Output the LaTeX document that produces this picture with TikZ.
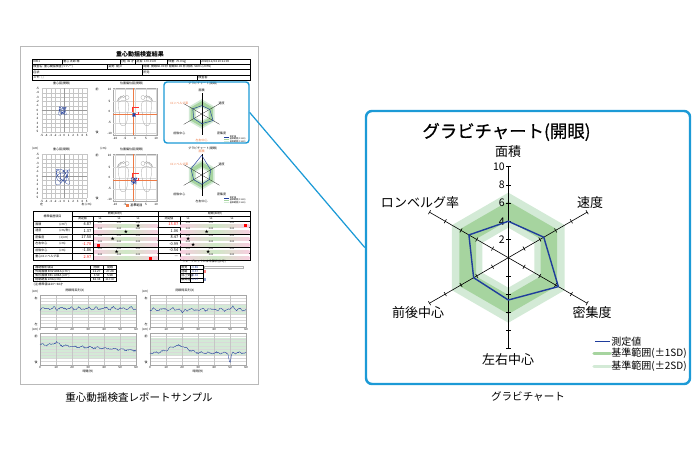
\documentclass[tikz,border=0pt]{standalone}
\usepackage{fontspec}
\setmainfont{Noto Sans CJK JP}
\newfontfamily\titlefont[FakeBold=0.6]{Noto Sans CJK JP}
\usepackage{tikz}

\definecolor{frameblue}{HTML}{1C9AD6}
\definecolor{lineblue}{HTML}{1F3D9C}
\definecolor{sdone}{HTML}{A6D49F}
\definecolor{sdtwo}{HTML}{D3EAD6}
\definecolor{markorange}{HTML}{EE7A45}
\definecolor{barpink}{HTML}{F7CFE0}
\definecolor{baryellow}{HTML}{F4F1B0}
\definecolor{bargreen}{HTML}{CFE8C6}

\newcommand{\sz}[1]{\fontsize{#1}{#1}\selectfont}

\begin{document}
\begin{tikzpicture}[scale=0.2]
	\tikzstyle{every node}+=[inner sep=0pt]
	\tikzstyle{tiny}=[font=\sz{1.7}]
	\tikzstyle{hair}=[line width=0.15pt]
	\tikzstyle{axislabel}=[font=\sz{7.4}]
	\tikzstyle{legendtext}=[font=\sz{5.7}, right]
	\useasboundingbox (0,0) rectangle (70,-45);
	\pgfmathsetseed{7}

	% report sample page
	\draw [gray!55, line width=0.4pt, fill=white] (2.05,-4.6) rectangle (25.8,-38.4);
	\draw (14.0,-5.45) node [font=\sz{3.4}\bfseries] {重心動揺検査結果};
	\draw [hair] (3.17,-5.9) rectangle (25.0,-8.0);
	\draw [hair] (3.17,-6.43) -- (25.0,-6.43) (3.17,-6.96) -- (25.0,-6.96) (3.17,-7.49) -- (25.0,-7.49);
	\draw [hair] (6.17,-5.9) -- (6.17,-6.43) (12.0,-5.9) -- (12.0,-6.43) (13.5,-5.9) -- (13.5,-6.43) (16.67,-5.9) -- (16.67,-6.43) (20.0,-5.9) -- (20.0,-6.43);
	\draw [hair] (10.67,-6.43) -- (10.67,-6.96) (14.17,-6.43) -- (14.17,-7.49) (19.67,-7.49) -- (19.67,-8.0);
	\draw (3.3,-6.17) node [tiny, right] {0001};
	\draw (6.3,-6.17) node [tiny, right] {重心 太郎 様};
	\draw (12.1,-6.17) node [tiny, right] {(男) 45 才};
	\draw (13.6,-6.17) node [tiny, right] {身長: 170.0 cm};
	\draw (16.8,-6.17) node [tiny, right] {体重: 70.0 kg};
	\draw (20.1,-6.17) node [tiny, right] {2018/11/04 10:11:00};
	\draw (3.3,-6.7) node [tiny, right] {検査名: 重心動揺検査(ラバー)};
	\draw (10.8,-6.7) node [tiny, right] {姿勢: 閉/0};
	\draw (14.3,-6.7) node [tiny, right] {時間: 開眼60.00 秒 閉眼60.00 秒 間隔: 50ms (20Hz)};
	\draw (3.3,-7.22) node [tiny, right] {症状:};
	\draw (14.3,-7.22) node [tiny, right] {所見:};
	\draw (3.3,-7.75) node [tiny, right] {メモ: □};
	\draw (19.8,-7.75) node [tiny, right] {検査者:};

	% sway and position plots
	\foreach \o/\eye/\amp in {0/開眼/1.3, 6.6/閉眼/2.4} {
		\draw (6.17,-8.37-\o) node [tiny] {重心図(\eye)};
		\foreach \i in {0,...,10} {
			\draw [gray!45, line width=0.1pt] (4.17+0.45*\i,-8.83-\o) -- (4.17+0.45*\i,-13.17-\o);
			\draw [gray!45, line width=0.1pt] (4.17,-8.83-0.434*\i-\o) -- (8.67,-8.83-0.434*\i-\o);
		}
		\draw [gray!80, line width=0.2pt] (6.42,-8.83-\o) -- (6.42,-13.17-\o) (4.17,-11.0-\o) -- (8.67,-11.0-\o);
		\draw [lineblue, line width=0.1pt] plot [domain=0:12, samples=90] ({6.25+\amp*(0.2*sin(\x*97)+0.1*sin(\x*263))}, {-11.1-\o+\amp*(0.24*cos(\x*131)+0.1*sin(\x*307))});
		\foreach \n in {-5,...,5} {
			\draw (6.42+0.45*\n,-13.55-\o) node [tiny] {\n};
			\draw (3.75,-11.0-\o-0.434*\n) node [tiny] {\n};
		}
		\draw (13.17,-8.37-\o) node [tiny] {位置偏位図(\eye)};
		\draw [gray!70, hair] (11.33,-8.83-\o) rectangle (15.67,-13.5-\o);
		\foreach \g/\n in {11.5/-10, 12.5/-5, 13.5/0, 14.6/5, 15.6/10} {
			\draw [gray!30, line width=0.1pt] (\g,-8.83-\o) -- (\g,-13.5-\o);
			\draw (\g,-13.85-\o) node [tiny] {\n};
		}
		\foreach \g/\n in {8.93/10, 10.1/5, 11.17/0, 12.27/-5, 13.33/-10} {
			\draw [gray!30, line width=0.1pt] (11.33,-\g-\o) -- (15.67,-\g-\o);
			\draw (10.95,-\g-\o) node [tiny] {\n};
		}
		\draw (9.7,-8.95-\o) node [tiny] {前};
		\draw (9.7,-13.2-\o) node [tiny] {後};
		\foreach \fx/\fd in {12.33/1, 14.67/-1} {
			\begin{scope}[shift={(\fx,-11.07-\o)}, xscale=\fd]
				\draw [gray!75, hair] plot [smooth cycle] coordinates {(0.05,1.05) (0.45,0.85) (0.55,0.3) (0.4,-0.4) (0.38,-1.0) (0.15,-1.45) (-0.2,-1.45) (-0.4,-1.0) (-0.35,-0.35) (-0.5,0.35) (-0.45,0.85)};
				\draw [gray!75, hair] (0.38,1.32) circle (0.2) (0.02,1.42) circle (0.13) (-0.22,1.36) circle (0.11) (-0.4,1.22) circle (0.09) (-0.52,1.04) circle (0.08);
			\end{scope}
		}
		\draw [markorange, line width=0.25pt] (13.33,-8.83-\o) -- (13.33,-13.5-\o) (11.33,-11.4-\o) -- (15.67,-11.4-\o);
		\draw [red!80, dashed, line width=0.1pt] (13.17,-10.67-\o) rectangle (13.83,-11.4-\o);
		\draw [lineblue, line width=0.1pt] plot [domain=0:12, samples=80] ({13.4+0.5*\amp*(0.15*sin(\x*97)+0.1*sin(\x*263))}, {-11.5-\o+0.5*\amp*(0.2*cos(\x*131)+0.1*sin(\x*307))});
	}
	\draw (3.17,-14.9) node [tiny, right] {(cm)};
	\draw (10.0,-14.9) node [tiny, right] {(cm)};
	\draw (4.17,-20.43) node [tiny] {左};
	\draw (8.67,-20.43) node [tiny] {右 (cm)};
	\fill [markorange] (12.6,-20.45) rectangle (12.85,-20.7);
	\draw (13.0,-20.57) node [tiny, right] {基準範囲};

	% small gravity charts
	\foreach \o/\ot/\eye/\ca/\cd/\ra/\rb/\rc/\rd/\re/\rf in {0/0/開眼/black/markorange/4.0/4.5/6.35/4.65/4.4/5.0, 6.1/6.53/閉眼/markorange/black/9.5/5.0/4.3/4.5/4.5/6.0} {
		\draw (20.27,-8.37-\ot) node [tiny] {グラビチャート(\eye)};
		\begin{scope}[shift={(20.17,-11.4-\o)}, scale=0.207]
			\fill [sdtwo, even odd rule] (90:7.15) \foreach \a in {30,-30,-90,-150,150} {-- (\a:7.15)} -- cycle (90:3.3) \foreach \a in {30,-30,-90,-150,150} {-- (\a:3.3)} -- cycle;
			\fill [sdone, even odd rule] (90:6.2) \foreach \a in {30,-30,-90,-150,150} {-- (\a:6.2)} -- cycle (90:4.1) \foreach \a in {30,-30,-90,-150,150} {-- (\a:4.1)} -- cycle;
			\foreach \a in {90,30,-30,-90,-150,150} \draw [line width=0.12pt] (0,0) -- (\a:10);
			\draw [lineblue, line width=0.25pt] (90:\ra) -- (30:\rb) -- (-30:\rc) -- (-90:\rd) -- (-150:\re) -- (150:\rf) -- cycle;
			\draw (0,11.6) node [tiny, text=\ca] {面積};
			\draw (9.66,5.17) node [tiny] {速度};
			\draw (9.66,-9.3) node [tiny] {密集度};
			\draw (0,-12.6) node [tiny, text=\cd] {左右中心};
			\draw (-10.8,-9.3) node [tiny] {前後中心};
			\draw (-10.8,5.17) node [tiny, text=markorange] {ロンベルグ率};
			\draw [lineblue, line width=0.2pt] (10.8,-11.0) -- (13.2,-11.0);
			\draw [sdone, line width=0.5pt] (10.8,-12.2) -- (13.2,-12.2);
			\draw [sdtwo, line width=0.5pt] (10.8,-13.4) -- (13.2,-13.4);
			\draw (13.4,-11.0) node [font=\sz{1.2}, right] {測定値};
			\draw (13.4,-12.2) node [font=\sz{1.2}, right] {基準範囲(±1SD)};
			\draw (13.4,-13.4) node [font=\sz{1.2}, right] {基準範囲(±2SD)};
		\end{scope}
	}

	% index table
	\draw [line width=0.3pt] (3.33,-21.17) rectangle (25.0,-26.0);
	\draw [hair] (7.17,-21.6) -- (25.0,-21.6) (3.33,-22.1) -- (25.0,-22.1);
	\foreach \k in {1,...,5} \draw [hair] (3.33,-22.1-0.65*\k) -- (25.0,-22.1-0.65*\k);
	\draw [hair] (7.17,-21.17) -- (7.17,-26.0) (9.33,-21.6) -- (9.33,-26.0) (18.0,-21.6) -- (18.0,-26.0);
	\draw [line width=0.4pt] (15.83,-21.17) -- (15.83,-26.0);
	\draw (5.25,-21.63) node [tiny] {標準偏差項目};
	\draw (11.5,-21.38) node [tiny] {開眼(60秒)};
	\draw (21.5,-21.38) node [tiny] {閉眼(60秒)};
	\draw (8.25,-21.85) node [tiny] {測定値};
	\draw (16.9,-21.85) node [tiny] {測定値};
	\foreach \hx in {10.0,11.9,13.8,18.8,21.1,23.2} \draw (\hx,-21.85) node [font=\sz{1.3}] {SD};
	\foreach \k/\nm/\un/\va/\vb in {0/面積/(cm²)/4.87/{\color{red}13.87}, 1/速度/{(cm/秒)}/1.37/1.06, 2/密集度/{(1/cm)}/17.50/8.47, 3/左右中心/(cm)/{\color{red}-1.70}/-0.99, 4/前後中心/(cm)/-1.86/-0.54, 5/重心ロンベルグ率//{\color{red}2.97}/---} {
		\draw (3.5,-22.42-0.65*\k) node [tiny, right] {\nm};
		\draw (5.9,-22.42-0.65*\k) node [tiny, right] {\un};
		\draw (9.15,-22.42-0.65*\k) node [font=\sz{2.2}, left] {\va};
		\draw (17.85,-22.42-0.65*\k) node [font=\sz{2.2}, left] {\vb};
		\shade [left color=barpink, middle color=baryellow, right color=bargreen] (9.4,-22.42-0.65*\k) rectangle (12.58,-22.72-0.65*\k);
		\shade [left color=bargreen, middle color=baryellow, right color=barpink] (12.58,-22.42-0.65*\k) rectangle (15.76,-22.72-0.65*\k);
		\shade [left color=barpink, middle color=baryellow, right color=bargreen] (18.07,-22.42-0.65*\k) rectangle (21.5,-22.72-0.65*\k);
		\shade [left color=bargreen, middle color=baryellow, right color=barpink] (21.5,-22.42-0.65*\k) rectangle (24.93,-22.72-0.65*\k);
		\foreach \hx in {10.0,11.9,13.8,18.8,21.1,23.2} \draw (\hx,-22.26-0.65*\k) node [font=\sz{1.3}] {0.00};
	}
	\foreach \sx/\sy in {13.83/0, 12.6/1, 11.27/2, 11.67/4, 20.67/1, 18.83/2, 19.33/3, 20.83/4} \draw (\sx,-22.57-0.65*\sy) node [font=\sz{2.4}] {★};
	\foreach \sx/\sy in {9.83/3, 15.0/5, 24.5/0} \fill [red] (\sx-0.15,-22.42-0.65*\sy) rectangle (\sx+0.15,-22.72-0.65*\sy);

	% sub tables
	\draw [line width=0.3pt] (3.33,-26.5) rectangle (11.67,-28.17);
	\draw [hair] (3.33,-26.9) -- (11.67,-26.9) (3.33,-27.33) -- (11.67,-27.33) (3.33,-27.75) -- (11.67,-27.75) (9.0,-26.5) -- (9.0,-28.17) (10.33,-26.5) -- (10.33,-28.17);
	\draw (3.5,-26.7) node [tiny, right] {補助解析項目};
	\draw (9.67,-26.7) node [tiny] {開眼};
	\draw (11.0,-26.7) node [tiny] {閉眼};
	\foreach \k/\nm/\va/\vb in {0/外周面積 ENV AREA (cm²)/11.27/27.28, 1/矩形面積 REC AREA (cm²)/3.50/5.58, 2/総軌跡長 LNG (cm)/82.34/117.47} {
		\draw (3.5,-27.12-0.42*\k) node [tiny, right] {\nm};
		\draw (9.67,-27.12-0.42*\k) node [tiny] {\va};
		\draw (11.0,-27.12-0.42*\k) node [tiny] {\vb};
	}
	\draw (3.33,-28.5) node [tiny, right] {(注)標準値は20〜60才};
	\draw (18.2,-26.2) node [tiny, right] {ウェーブレットによる解析(参考)};
	\draw [line width=0.3pt] (18.0,-26.5) rectangle (20.3,-28.2);
	\draw [hair] (18.0,-26.92) -- (20.3,-26.92) (18.0,-27.35) -- (20.3,-27.35) (18.0,-27.77) -- (20.3,-27.77) (19.0,-26.5) -- (19.0,-28.2);
	\draw [gray!60, hair] (20.4,-26.58) rectangle (24.3,-26.85);
	\foreach \k/\nm/\va in {0/視覚/-0.86, 1/迷路/-0.37, 2/自己受容/-0.36, 3/脳関連/-0.07} {
		\draw (18.1,-26.71-0.42*\k) node [tiny, right] {\nm};
		\draw (19.1,-26.71-0.42*\k) node [tiny, right, text=lineblue] {\va};
	}
	\fill [red!50] (20.4,-26.98) rectangle (20.6,-27.28);
	\fill [lineblue!50] (20.4,-27.83) rectangle (20.6,-28.13);

	% time series
	\foreach \cx/\cy/\bt/\bb in {4.0/-29.5/1.0/1.85, 15.0/-29.5/1.0/1.85, 4.0/-33.3/0.4/2.5, 15.0/-33.3/0.5/2.3} {
		\fill [sdtwo] (\cx,\cy-\bt) rectangle (\cx+9.6,\cy-\bb);
		\foreach \h in {1,...,9} \draw [gray!30, line width=0.1pt] (\cx,\cy-0.317*\h) -- (\cx+9.6,\cy-0.317*\h);
		\foreach \v in {0,...,6} {
			\draw [gray!45, line width=0.1pt] (\cx+1.6*\v,\cy) -- (\cx+1.6*\v,\cy-3.17);
			\draw (\cx+1.6*\v,\cy-3.42) node [tiny] {\the\numexpr 10*\v\relax};
		}
		\draw [gray!70, hair] (\cx,\cy) rectangle (\cx+9.6,\cy-3.17);
		\draw (\cx-0.5,\cy+0.3) node [tiny] {(cm)};
	}
	\draw (7.5,-29.1) node [tiny] {開眼時系列(X)};
	\draw (18.5,-29.1) node [tiny] {閉眼時系列(X)};
	\foreach \cx in {3.6,14.6} {
		\draw (\cx,-29.8) node [tiny] {右};
		\draw (\cx,-32.4) node [tiny] {左};
		\draw (\cx,-33.6) node [tiny] {前};
		\draw (\cx,-36.2) node [tiny] {後};
	}
	\draw (8.8,-37.2) node [tiny] {時間(秒)};
	\draw (19.8,-37.2) node [tiny] {時間(秒)};
	\draw [lineblue, line width=0.2pt] plot [domain=4.0:13.6, samples=140] (\x, {-30.85+0.1*sin(\x*420)+0.06*sin(\x*610+30)+0.14*(rnd-0.5)});
	\draw [lineblue, line width=0.2pt] plot [domain=15.0:24.6, samples=140] (\x, {-30.95+0.08*sin(\x*380)+0.06*sin(\x*590)+0.14*(rnd-0.5)-0.35*exp(-(\x-18.3)*(\x-18.3)/0.03)+0.3*exp(-(\x-23.3)*(\x-23.3)/0.05)});
	\draw [lineblue, line width=0.2pt] plot [domain=4.0:13.6, samples=140] (\x, {-34.45-0.06*(\x-4)+0.3*exp(-(\x-5.6)*(\x-5.6)/0.2)+0.07*sin(\x*450)+0.14*(rnd-0.5)});
	\draw [lineblue, line width=0.2pt] plot [domain=15.0:24.6, samples=140] (\x, {-35.3+0.75*exp(-(\x-17.8)*(\x-17.8)/1.5)+0.07*sin(\x*470)+0.14*(rnd-0.5)-0.9*exp(-(\x-23.0)*(\x-23.0)/0.02)});

	% captions
	\draw (13.9,-39.7) node [font=\sz{6}] {重心動揺検査レポートサンプル};
	\draw (52.8,-39.7) node [font=\sz{6}] {グラビチャート};

	% enlarged gravity chart
	\draw (50.65,-13.2) node [font=\sz{9.9}\titlefont] {グラビチャート(開眼)};
	\begin{scope}[shift={(50.83,-25.77)}, scale=0.91]
		\fill [sdtwo, even odd rule] (90:7.15) \foreach \a in {30,-30,-90,-150,150} {-- (\a:7.15)} -- cycle (90:3.3) \foreach \a in {30,-30,-90,-150,150} {-- (\a:3.3)} -- cycle;
		\fill [sdone, even odd rule] (90:6.2) \foreach \a in {30,-30,-90,-150,150} {-- (\a:6.2)} -- cycle (90:4.1) \foreach \a in {30,-30,-90,-150,150} {-- (\a:4.1)} -- cycle;
		\foreach \a in {90,30,-30,-90,-150,150} {
			\draw [line width=0.35pt] (0,0) -- (\a:10);
			\foreach \r in {2,4,...,10} \draw [line width=0.35pt, rotate=\a] (\r,-0.25) -- (\r,0.25);
		}
		\foreach \r in {2,4,...,10} \draw (-0.35,\r) node [left, font=\sz{6}] {\r};
		\draw [lineblue, line width=0.8pt] (90:4.0) -- (30:4.5) -- (-30:6.35) -- (-90:4.65) -- (-150:4.4) -- (150:5.0) -- cycle;
	\end{scope}
	\draw (50.8,-15.2) node [axislabel] {面積};
	\draw (59.0,-20.3) node [axislabel] {速度};
	\draw (59.2,-31.3) node [axislabel] {密集度};
	\draw (50.8,-36.0) node [axislabel] {左右中心};
	\draw (41.8,-31.3) node [axislabel] {前後中心};
	\draw (42.0,-20.3) node [axislabel] {ロンベルグ率};
	\draw [lineblue, line width=0.8pt] (59.5,-34.17) -- (61.0,-34.17);
	\draw [sdone, line width=1.8pt, line cap=round] (59.4,-35.33) -- (61.0,-35.33);
	\draw [sdtwo, line width=1.8pt, line cap=round] (59.4,-36.67) -- (61.0,-36.67);
	\draw (61.1,-34.17) node [legendtext] {測定値};
	\draw (61.1,-35.33) node [legendtext] {基準範囲(±1SD)};
	\draw (61.1,-36.67) node [legendtext] {基準範囲(±2SD)};

	% frames and link
	\node [draw=frameblue, line width=1.4pt, rounded corners=1.2mm, minimum width=6.48cm, minimum height=5.46cm] (panel) at (52.8,-24.75) {};
	\node [draw=frameblue, line width=0.8pt, rounded corners=0.6mm, minimum width=1.7cm, minimum height=1.22cm] (hl) at (20.65,-11.25) {};
	\draw [frameblue, line width=0.7pt] (hl.east) -- (panel.west);
\end{tikzpicture}
\end{document}
